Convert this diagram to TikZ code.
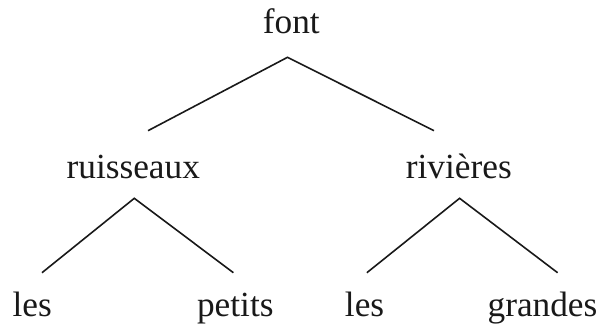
\documentclass[tikz,border=0pt]{standalone}
\usepackage{fontspec}
\setmainfont{Liberation Serif}
\begin{document}
\begin{tikzpicture}[x=1pt,y=-1pt,
  word/.style={anchor=base,inner sep=0pt,font=\fontsize{35.3}{40}\selectfont,text=black!90},
  branch/.style={draw=black!90,line width=1.6pt}]
\useasboundingbox (0,0) rectangle (598,325);
% words
\node[word] (font) at (291.3,33.5) {font};
\node[word] (ruis) at (133.3,178) {ruisseaux};
\node[word] (riv) at (458.8,178) {rivières};
\node[word] (les1) at (32.2,316.7) {les};
\node[word] (pet) at (235.3,316.7) {petits};
\node[word] (les2) at (364.6,316.7) {les};
\node[word] (gra) at (542.5,316.7) {grandes};
% branch points
\coordinate (fontA) at (287.5,57.3);
\coordinate (ruisT) at (148,130.7);
\coordinate (rivT) at (434,130.7);
\coordinate (ruisA) at (134.3,198.3);
\coordinate (les1T) at (42,272.7);
\coordinate (petT) at (233.4,272.7);
\coordinate (rivA) at (459.6,198.3);
\coordinate (les2T) at (366.9,272.7);
\coordinate (graT) at (557.6,272.7);
% branches
\draw[branch] (ruisT) -- (fontA) -- (rivT);
\draw[branch] (les1T) -- (ruisA) -- (petT);
\draw[branch] (les2T) -- (rivA) -- (graT);
\end{tikzpicture}
\end{document}
